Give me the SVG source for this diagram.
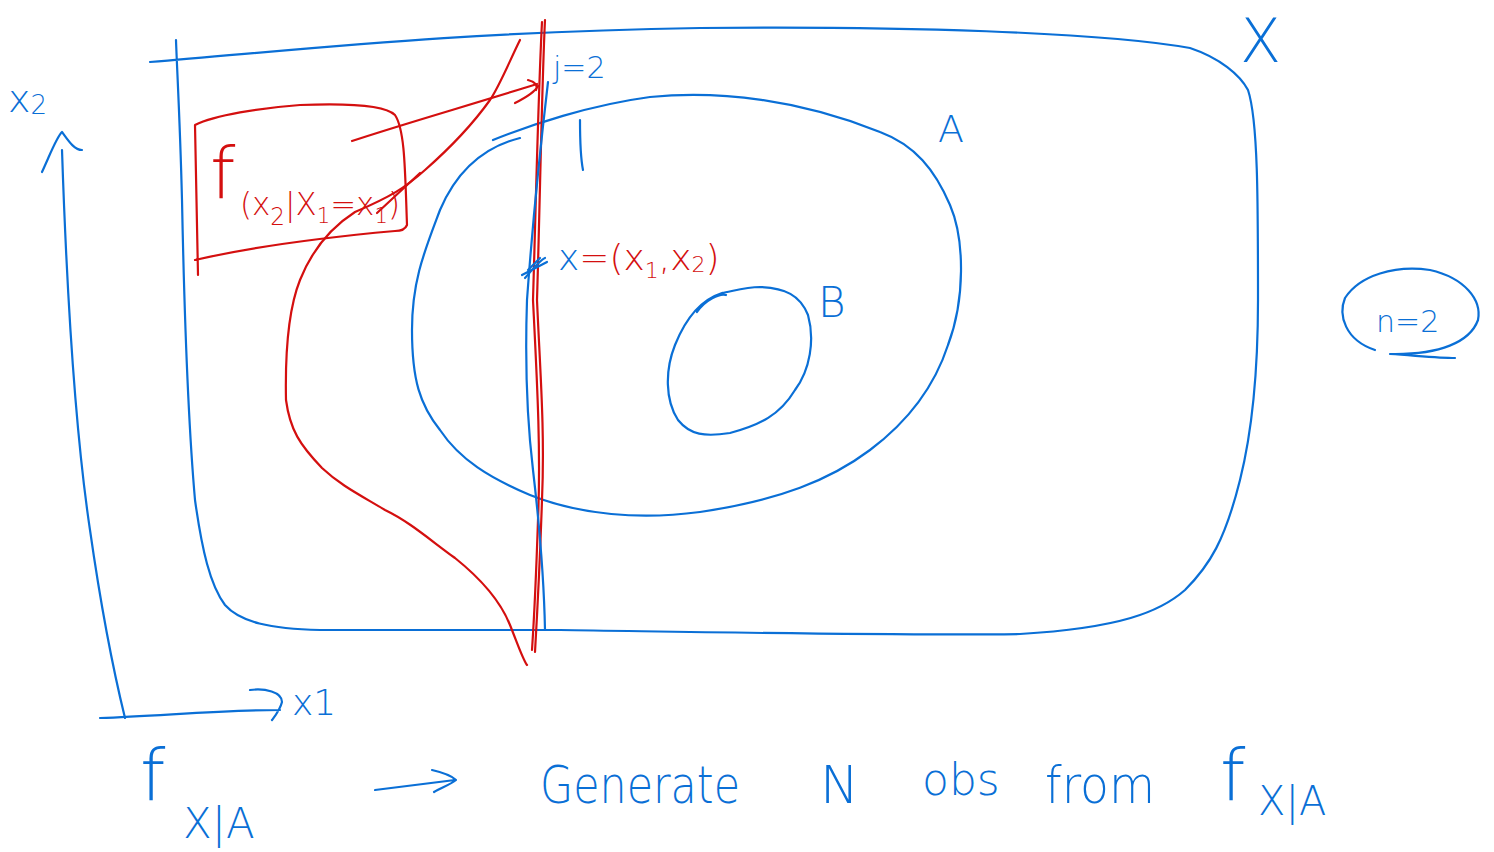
<svg xmlns="http://www.w3.org/2000/svg" width="1494" height="852" viewBox="0 0 1494 852">
<style>
.b{fill:none;stroke:#0a6fd6;stroke-width:2.2;stroke-linecap:round;stroke-linejoin:round}
.r{fill:none;stroke:#d40f0f;stroke-width:2.2;stroke-linecap:round;stroke-linejoin:round}
.tb{fill:#0a6fd6;font-family:"DejaVu Sans","Liberation Sans",sans-serif;font-weight:300}
.tr{fill:#d40f0f;font-family:"DejaVu Sans","Liberation Sans",sans-serif;font-weight:300}
</style>
<rect width="1494" height="852" fill="#fff"/>
<g id="X">
<path class="b" d="M150,62 C300,50 450,32 700,28 C900,26 1100,32 1190,48 C1220,58 1240,75 1248,90 C1258,120 1258,200 1258,300 C1258,380 1250,440 1240,480 C1225,540 1210,565 1185,590 C1160,612 1120,628 1020,634 C900,636 700,632 560,630 L320,630 C270,629 240,622 225,605 C210,585 202,550 195,500 C188,420 184,300 182,200 C180,120 177,70 176,40"/>
<text class="tb" x="1240" y="62" font-size="60">X</text>
</g>
<g id="A">
<path class="b" d="M493,140 C530,125 590,105 650,97 C720,90 800,100 880,132 C915,145 935,170 950,205 C965,240 965,300 948,345 C935,385 910,420 870,450 C830,480 780,500 700,512 C640,520 580,515 530,495 C490,478 460,460 440,430 C420,405 412,380 412,330 C412,280 425,250 440,210 C455,175 480,148 520,138"/>
<text class="tb" x="938" y="142" font-size="38">A</text>
</g>
<g id="B">
<path class="b" d="M697,312 C705,300 720,293 726,295 M722,293 C700,300 685,320 675,345 C665,370 665,400 678,420 C690,435 705,437 730,433 C760,425 780,415 795,390 C810,370 815,340 808,315 C800,295 785,288 760,287 C745,287 730,292 722,293"/>
<text class="tb" x="818" y="317" font-size="42">B</text>
</g>
<g id="n2">
<path class="b" d="M1375,350 C1345,340 1338,315 1345,298 C1360,275 1395,265 1430,270 C1465,278 1482,300 1478,320 C1470,342 1440,355 1390,354 C1420,356 1440,358 1455,358"/>
<text class="tb" x="1376" y="332" font-size="30">n=2</text>
</g>
<g id="axes">
<path class="b" d="M125,718 C112,665 100,600 90,530 C78,450 68,330 62,150 M42,172 C50,155 56,138 62,132 C68,140 74,150 82,150"/>
<path class="b" d="M100,718 C160,716 220,710 280,710 M250,690 C265,688 282,692 282,702 C280,710 275,716 272,720"/>
<text class="tb" x="8" y="112" font-size="38">x<tspan font-size="26" dy="2">2</tspan></text>
<text class="tb" x="292" y="715" font-size="36">x1</text>
</g>
<g id="density">
<path class="r" d="M198,275 L195,125 C215,115 260,108 300,105 C350,103 385,105 395,115 C405,130 405,170 407,225 C405,230 400,231 395,231 C340,236 260,245 195,260"/>
<text class="tr" x="210" y="198" font-size="72">f</text>
<text class="tr" x="240" y="215" font-size="32" textLength="160" lengthAdjust="spacingAndGlyphs">(x<tspan font-size="24" dy="10">2</tspan><tspan dy="-10">|X</tspan><tspan font-size="22" dy="8">1</tspan><tspan dy="-8">=x</tspan><tspan font-size="22" dy="8">1</tspan><tspan dy="-8">)</tspan></text>
<path class="r" d="M520,40 C510,60 500,85 490,100 C470,128 450,148 425,170 C405,188 390,197 355,212 C330,228 312,250 300,280 C288,310 285,350 286,400 C290,430 300,445 322,468 C340,485 360,495 385,510 C410,522 430,540 455,558 C480,578 500,600 510,625 C518,645 523,660 527,665"/>
<path class="r" d="M420,173 L377,213"/>
<path class="r" d="M352,141 C400,125 470,105 537,84 M528,80 C535,82 538,85 536,90 M515,103 C525,98 535,92 538,86"/>
</g>
<g id="lines">
<path class="r" d="M545,20 C542,80 540,200 537,300 C540,370 545,430 542,500 C540,560 538,600 535,652"/>
<path class="r" d="M542,22 C538,100 536,200 533,300 C537,380 541,450 538,520 C536,580 534,620 532,650"/>
<path class="b" d="M548,82 C540,150 532,230 527,300 C525,360 527,420 533,470 C540,530 544,580 545,630"/>
<path class="b" d="M525,278 C532,270 540,260 545,258 M522,275 L547,262 M528,270 L540,258"/>
<path class="b" d="M580,120 C580,140 580,155 583,170"/>
<text class="tb" x="553" y="78" font-size="30">j=2</text>
<text x="558" y="270" font-size="36"><tspan class="tb">x</tspan><tspan class="tr">=(x</tspan><tspan class="tr" font-size="22" dy="8">1</tspan><tspan class="tr" dy="-8">,x</tspan><tspan class="tr" font-size="22" dy="2">2</tspan><tspan class="tr" dy="-2">)</tspan></text>
</g>
<g id="bottom">
<text class="tb" x="140" y="800" font-size="72">f</text>
<text class="tb" x="183" y="838" font-size="42">X|A</text>
<path class="b" d="M375,790 C400,787 430,783 455,780 M432,770 C445,773 452,776 456,780 C450,785 440,788 434,792"/>
<text class="tb" x="540" y="803" font-size="52" textLength="200" lengthAdjust="spacingAndGlyphs">Generate</text>
<text class="tb" x="820" y="803" font-size="52">N</text>
<text class="tb" x="922" y="795" font-size="44">obs</text>
<text class="tb" x="1045" y="803" font-size="52" textLength="110" lengthAdjust="spacingAndGlyphs">from</text>
<text class="tb" x="1220" y="800" font-size="72">f</text>
<text class="tb" x="1258" y="815" font-size="40">X|A</text>
</g>
</svg>
